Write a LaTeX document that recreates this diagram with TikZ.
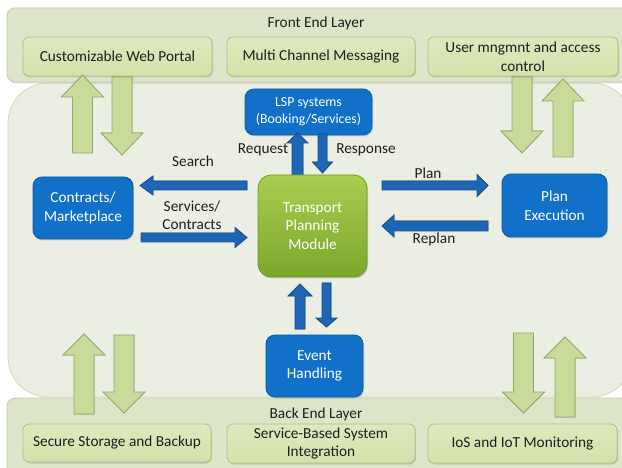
\documentclass[tikz,border=0pt]{standalone}
\usepackage{fontspec}
\setmainfont{Carlito}
\usetikzlibrary{calc,shadows}
\definecolor{bandfill}{HTML}{DDE5C9}
\definecolor{bandline}{HTML}{C3CFA8}
\definecolor{gboxfill}{HTML}{D3E2AA}
\definecolor{gboxtop}{HTML}{DDE9BC}
\definecolor{gboxline}{HTML}{AFC283}
\definecolor{midfill}{HTML}{EBEEE3}
\definecolor{midline}{HTML}{D2D7C6}
\definecolor{bluefill}{HTML}{1170C8}
\definecolor{blueline}{HTML}{0B5AA6}
\definecolor{barrowedge}{HTML}{1E66B5}
\definecolor{barrowmid}{HTML}{4C9BE4}
\definecolor{barrowline}{HTML}{174F8E}
\definecolor{garrowedge}{HTML}{C8DB98}
\definecolor{garrowmid}{HTML}{EEF5D6}
\definecolor{garrowline}{HTML}{93A86A}
\definecolor{tpmtop}{HTML}{A8CE50}
\definecolor{tpmbot}{HTML}{7BA72B}
\definecolor{tpmline}{HTML}{6E9A26}
\definecolor{txt}{HTML}{1E1E1E}
\newcommand\blockarrow[6]{%
  \coordinate (bah) at ($(#3)!#6!(#2)$);
  \filldraw[#1] ($(#2)!#4!90:(#3)$) -- ($(bah)!#4!90:(#3)$) -- ($(bah)!#5!90:(#3)$) -- (#3)
     -- ($(bah)!#5!-90:(#3)$) -- ($(bah)!#4!-90:(#3)$) -- ($(#2)!#4!-90:(#3)$) -- cycle;}
\begin{document}
\begin{tikzpicture}[x=1pt,y=-1pt,
  every node/.style={font=\fontsize{15.3}{18.5}\selectfont, text=txt, align=center, inner sep=0pt},
  band/.style={fill=bandfill, draw=bandline, line width=0.8pt, rounded corners=8pt,
     drop shadow={opacity=0.25, shadow xshift=1pt, shadow yshift=-1.5pt}},
  gbox/.style={top color=gboxtop, bottom color=gboxfill, draw=gboxline, line width=0.8pt, rounded corners=6pt,
     drop shadow={opacity=0.3, shadow xshift=1pt, shadow yshift=-1.5pt}},
  bbox/.style={fill=bluefill, draw=blueline, line width=0.8pt, rounded corners=9pt, text=white,
     drop shadow={opacity=0.3, shadow xshift=1pt, shadow yshift=-1.5pt}},
  tbox/.style={top color=tpmtop, bottom color=tpmbot, draw=tpmline, line width=0.8pt, rounded corners=13pt, text=white,
     drop shadow={opacity=0.3, shadow xshift=1pt, shadow yshift=-1.5pt}},
  barrowv/.style={left color=barrowedge, middle color=barrowmid, right color=barrowedge, draw=barrowline, line width=0.8pt, line join=miter},
  barrowh/.style={top color=barrowedge, middle color=barrowmid, bottom color=barrowedge, draw=barrowline, line width=0.8pt, line join=miter},
  garrow/.style={left color=garrowedge, middle color=garrowmid, right color=garrowedge, draw=garrowline, line width=0.8pt, line join=miter},
  lbl/.style={text=txt}]
\useasboundingbox (0,0) rectangle (622,468);
\clip (0,0) rectangle (622,468);
\fill[white] (0,0) rectangle (622,468);

% middle region
\filldraw[fill=midfill, draw=midline, line width=0.8pt, rounded corners=40pt] (8,83) rectangle (632,397);

% bands
\path[band] (7,8) rectangle (632,82);
\path[band] (7,398) rectangle (632,480);
\node (fel) at (316,23) {Front End Layer};
\node (bel) at (316,414) {Back End Layer};

% front end boxes
\node[gbox, minimum width=189pt, minimum height=39pt] (cwp) at (117.5,56.5) {Customizable Web Portal};
\node[gbox, minimum width=188pt, minimum height=39pt] (mcm) at (321,56.5) {Multi Channel Messaging};
\node[gbox, minimum width=190pt, minimum height=39pt] (uma) at (523,56.5) {User mngmnt and access\\control};

% back end boxes
\node[gbox, minimum width=188pt, minimum height=38pt] (ssb) at (117,443) {Secure Storage and Backup};
\node[gbox, minimum width=188pt, minimum height=39pt] (sbs) at (321,443.5) {Service-Based System\\Integration};
\node[gbox, minimum width=189pt, minimum height=39pt] (iot) at (522.5,443.5) {IoS and IoT Monitoring};

% green block arrows
\coordinate (g1a) at (82.5,153); \coordinate (g1b) at (82.5,75);
\coordinate (g2a) at (122,77);   \coordinate (g2b) at (122,155);
\coordinate (g3a) at (522,77);   \coordinate (g3b) at (522,153);
\coordinate (g4a) at (563,157);  \coordinate (g4b) at (563,79);
\coordinate (g5a) at (84,414);   \coordinate (g5b) at (84,334);
\coordinate (g6a) at (124,335);  \coordinate (g6b) at (124,413);
\coordinate (g7a) at (523.5,333);\coordinate (g7b) at (523.5,413);
\coordinate (g8a) at (565,417);  \coordinate (g8b) at (565,337);
\blockarrow{garrow}{g1a}{g1b}{10pt}{21pt}{22pt}
\blockarrow{garrow}{g2a}{g2b}{10pt}{21pt}{22pt}
\blockarrow{garrow}{g3a}{g3b}{10pt}{21pt}{22pt}
\blockarrow{garrow}{g4a}{g4b}{10pt}{21pt}{22pt}
\blockarrow{garrow}{g5a}{g5b}{10pt}{21pt}{21pt}
\blockarrow{garrow}{g6a}{g6b}{10pt}{21pt}{21pt}
\blockarrow{garrow}{g7a}{g7b}{10pt}{21pt}{21pt}
\blockarrow{garrow}{g8a}{g8b}{10pt}{21pt}{21pt}

% blue boxes
\node[bbox, minimum width=127pt, minimum height=46pt, font=\fontsize{13.8}{17}\selectfont] (lsp) at (308.5,112) {LSP systems\\(Booking/Services)};
\node[bbox, minimum width=100pt, minimum height=62pt] (cm) at (83,208) {Contracts/\\Marketplace};
\node[bbox, minimum width=105pt, minimum height=63pt] (pe) at (554.5,205.5) {Plan\\Execution};
\node[bbox, minimum width=97pt, minimum height=62pt] (eh) at (314.5,366) {Event\\Handling};

% blue arrows
\coordinate (r1) at (297.5,177); \coordinate (r2) at (297.5,133);
\coordinate (p1) at (322.5,134); \coordinate (p2) at (322.5,173);
\coordinate (e1) at (300,329);   \coordinate (e2) at (300,284);
\coordinate (e3) at (326.5,283); \coordinate (e4) at (326.5,327);
\blockarrow{barrowv}{r1}{r2}{5.5pt}{10.5pt}{10pt}
\blockarrow{barrowv}{p1}{p2}{4.5pt}{10pt}{11pt}
\blockarrow{barrowv}{e1}{e2}{5pt}{12pt}{12pt}
\blockarrow{barrowv}{e3}{e4}{4.5pt}{10.5pt}{9pt}

% transport planning module
\node[tbox, minimum width=109pt, minimum height=102pt] (tpm) at (312.5,226) {Transport\\Planning\\Module};

\coordinate (s1) at (247,185.5); \coordinate (s2) at (140,185.5);
\coordinate (c1) at (141,237.5); \coordinate (c2) at (247,237.5);
\coordinate (l1) at (382,185.5); \coordinate (l2) at (488,185.5);
\coordinate (q1) at (488,226);   \coordinate (q2) at (382,226);
\blockarrow{barrowh}{s1}{s2}{4.5pt}{9.5pt}{13pt}
\blockarrow{barrowh}{c1}{c2}{4.5pt}{10pt}{12pt}
\blockarrow{barrowh}{l1}{l2}{4.5pt}{11pt}{11pt}
\blockarrow{barrowh}{q1}{q2}{5pt}{11pt}{12pt}

% labels
\node[lbl] (ls) at (193,161) {Search};
\node[lbl] (lc) at (192,215) {Services/\\Contracts};
\node[lbl] (lp) at (428,173) {Plan};
\node[lbl] (lr) at (434,239) {Replan};
\node[lbl] (lq) at (263,150) {Request};
\node[lbl] (lo) at (366,150) {Response};
\end{tikzpicture}
\end{document}
